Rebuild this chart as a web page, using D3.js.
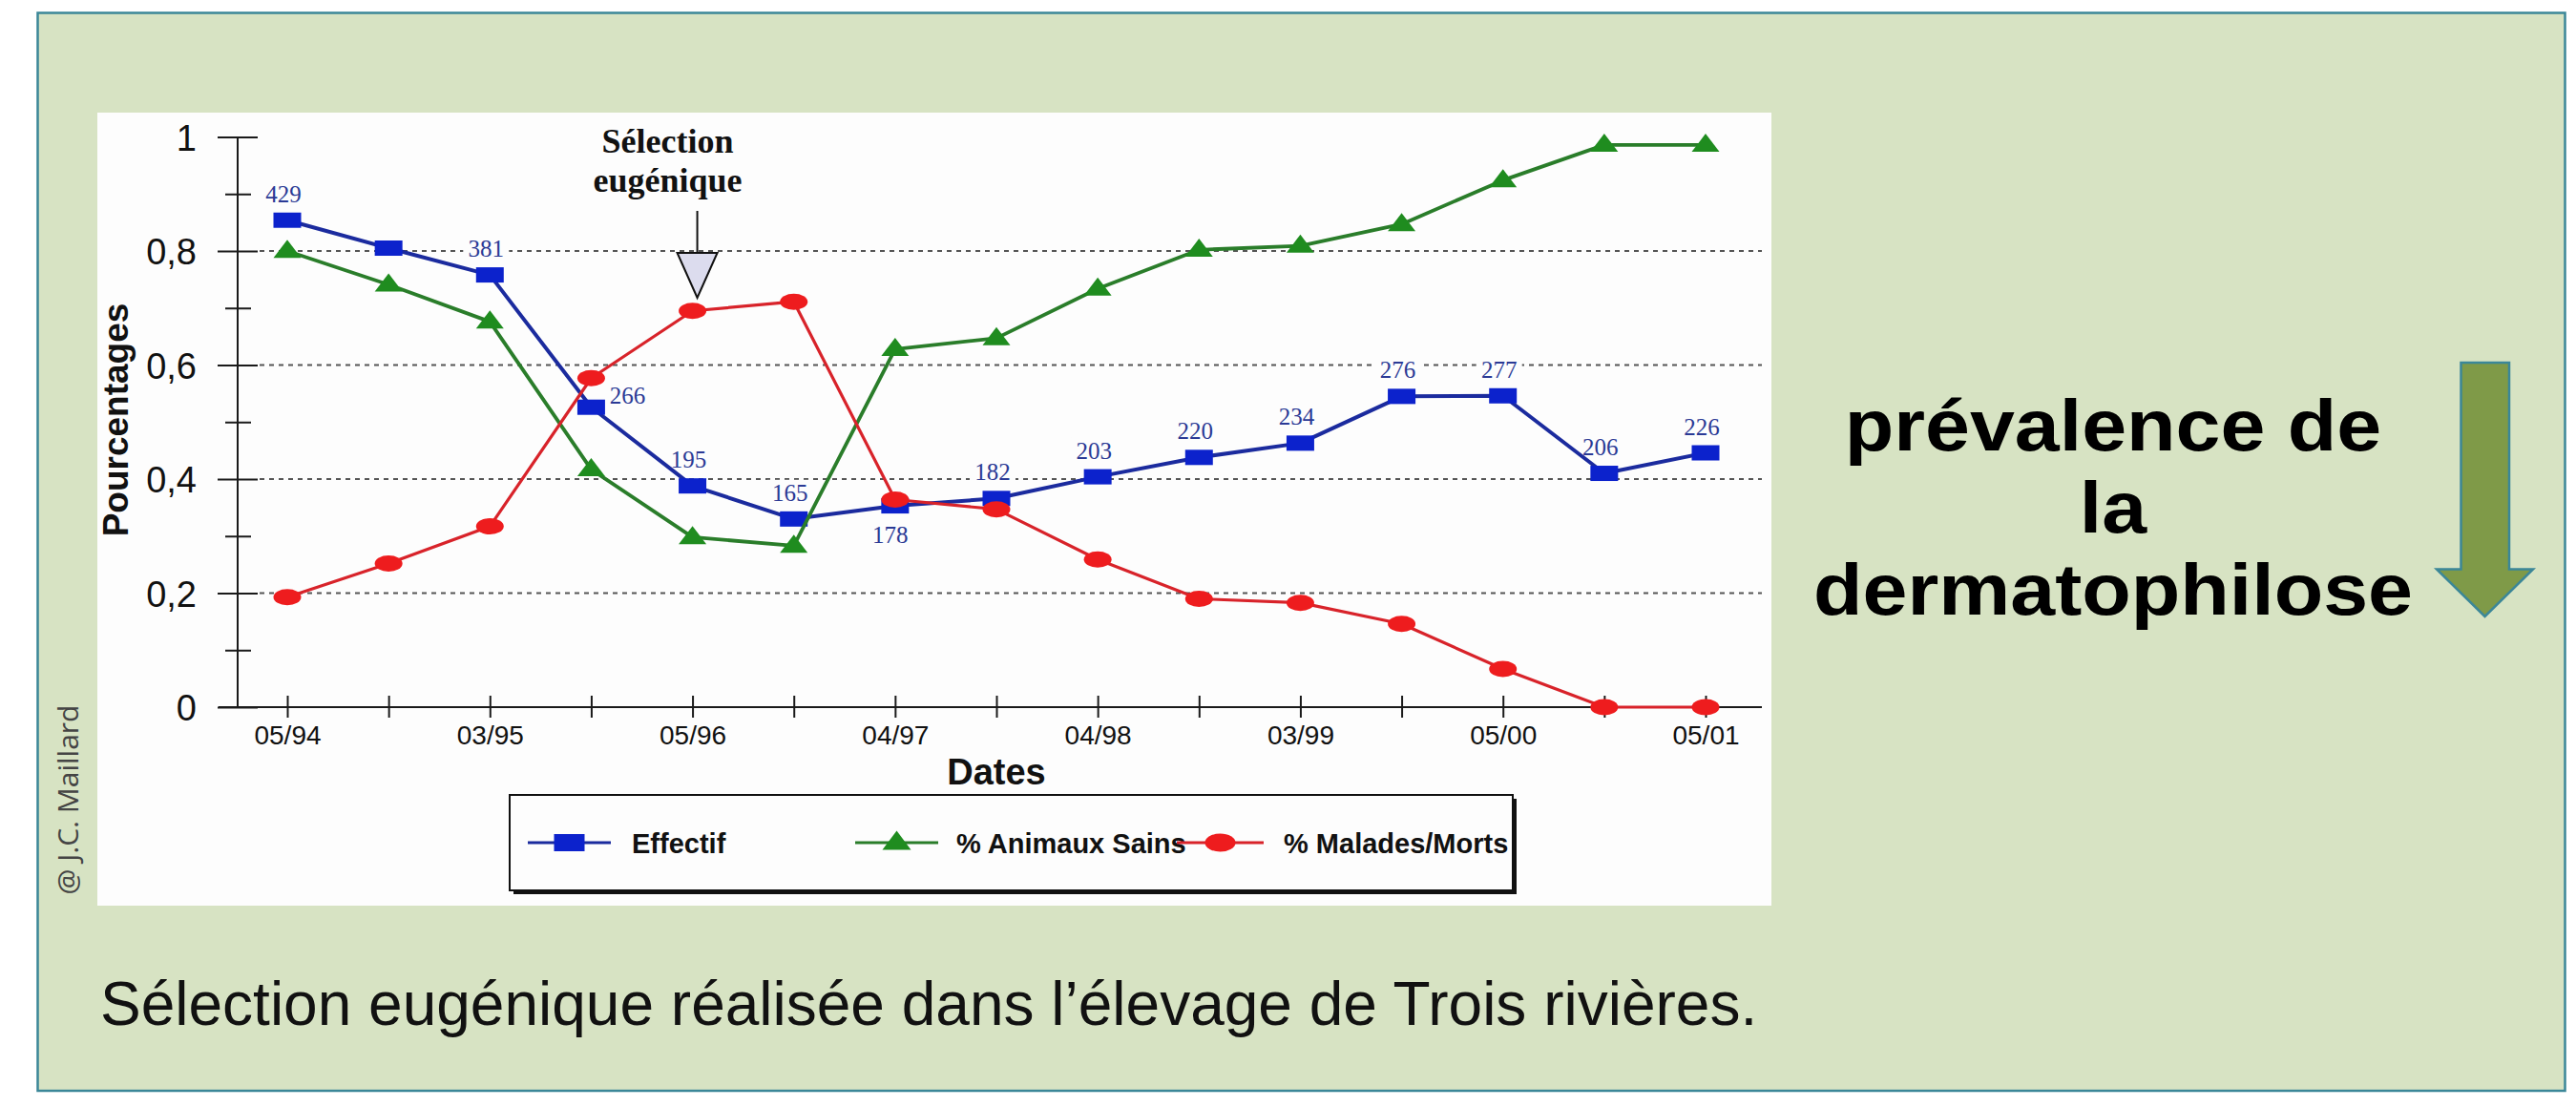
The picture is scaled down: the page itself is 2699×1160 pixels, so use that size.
<!DOCTYPE html>
<html>
<head>
<meta charset="utf-8">
<script src="https://cdn.jsdelivr.net/npm/d3@7"></script>
<style>
  html, body { margin: 0; padding: 0; background: #ffffff; }
  svg { display: block; }
</style>
</head>
<body>
<svg id="chart" width="2699" height="1160"></svg>
<script>
// ---------------- DATA ----------------
const dateLabels = ["05/94", "", "03/95", "", "05/96", "", "04/97", "", "04/98", "", "03/99", "", "05/00", "", "05/01"];
const effectif = [0.854, 0.805, 0.758, 0.526, 0.388, 0.330, 0.353, 0.366, 0.404, 0.438, 0.463, 0.545, 0.546, 0.410, 0.446];
const effectifCounts = ["429", "", "381", "266", "195", "165", "178", "182", "203", "220", "234", "276", "277", "206", "226"];
const effectifLabelSide = ["above", null, "above", "right", "above", "above", "below", "above", "above", "above", "above", "above", "above", "above", "above"];
const animauxSains = [0.800, 0.741, 0.676, 0.417, 0.298, 0.283, 0.628, 0.647, 0.734, 0.802, 0.809, 0.847, 0.924, 0.986, 0.986];
const maladesMorts = [0.193, 0.252, 0.317, 0.577, 0.695, 0.711, 0.364, 0.347, 0.259, 0.190, 0.183, 0.146, 0.067, 0.000, 0.000];
const yTickValues = [0, 0.1, 0.2, 0.3, 0.4, 0.5, 0.6, 0.7, 0.8, 0.9, 1];
const yTickLabels = ["0", "", "0,2", "", "0,4", "", "0,6", "", "0,8", "", "1"];
const gridValues = [0.2, 0.4, 0.6, 0.8];
const seriesNames = ["Effectif", "% Animaux Sains", "% Malades/Morts"];
const annotationIndex = 4;
const annotationLines = ["Sélection", "eugénique"];
const sideTextLines = ["prévalence de", "la", "dermatophilose"];
const captionText = "Sélection eugénique réalisée dans l’élevage de Trois rivières.";
const creditText = "@ J.C. Maillard";

// ---------------- STYLE ----------------
const SANS = "'Liberation Sans', Arial, Helvetica, sans-serif";
const SERIF = "'Liberation Serif', 'Times New Roman', serif";
const C = {
  panel: "#d7e3c3", panelStroke: "#3b8798",
  blueLine: "#1b2b9e", blueMark: "#0c22cc", blueText: "#2b3a95",
  greenLine: "#2a7d2a", greenMark: "#1f8c1f",
  redLine: "#d8232a", redMark: "#ee1c1e",
  axis: "#1a1a1a", grid: "#555"
};

const svg = d3.select("#chart");

// Panel
svg.append("rect").attr("x", 39.5).attr("y", 13.5).attr("width", 2648).attr("height", 1129.5)
  .attr("fill", C.panel).attr("stroke", C.panelStroke).attr("stroke-width", 2.5);

// White chart image area
svg.append("rect").attr("x", 102).attr("y", 118).attr("width", 1754).attr("height", 831)
  .attr("fill", "#fdfdfd");

// Scales
const x = d3.scalePoint().domain(d3.range(dateLabels.length)).range([301, 1787]);
const y = d3.scaleLinear().domain([0, 1]).range([741, 143.5]);
const axisX = 249;

const g = svg.append("g");

// Gridlines
g.selectAll("line.grid").data(gridValues).join("line")
  .attr("class", "grid")
  .attr("x1", 272).attr("x2", 1846)
  .attr("y1", d => y(d)).attr("y2", d => y(d))
  .attr("stroke", C.grid).attr("stroke-width", 2).attr("stroke-dasharray", "5,5");

// Y axis
const yAxis = d3.axisLeft(y).tickValues(yTickValues)
  .tickFormat((d, i) => yTickLabels[i]).tickSizeOuter(0);
const yg = g.append("g").attr("transform", `translate(${axisX},0)`).call(yAxis);
yg.select(".domain").remove();
yg.selectAll(".tick line")
  .attr("x1", (d, i) => yTickLabels[i] !== "" ? -21 : -13)
  .attr("x2", (d, i) => yTickLabels[i] !== "" ? 21 : 14)
  .attr("stroke", C.axis).attr("stroke-width", 2);
yg.selectAll(".tick text")
  .attr("x", -43).attr("dy", "0.36em")
  .attr("font-family", SANS).attr("font-size", 38).attr("fill", "#111");
g.append("line").attr("x1", axisX).attr("x2", axisX).attr("y1", y(1)).attr("y2", y(0))
  .attr("stroke", C.axis).attr("stroke-width", 2);

// X axis
const xAxis = d3.axisBottom(x).tickFormat(i => dateLabels[i]).tickSizeOuter(0);
const xg = g.append("g").attr("transform", `translate(0,${y(0)})`).call(xAxis);
xg.select(".domain").remove();
xg.selectAll(".tick line").attr("y1", -12).attr("y2", 11)
  .attr("stroke", C.axis).attr("stroke-width", 2);
xg.selectAll(".tick text").attr("y", 19)
  .attr("font-family", SANS).attr("font-size", 28).attr("fill", "#111");
g.append("line").attr("x1", 229).attr("x2", 1846).attr("y1", y(0)).attr("y2", y(0))
  .attr("stroke", C.axis).attr("stroke-width", 2);

// Axis titles
g.append("text").attr("transform", "translate(134,440) rotate(-90)")
  .attr("text-anchor", "middle").attr("font-family", SANS).attr("font-weight", "bold")
  .attr("font-size", 37).attr("fill", "#111").text("Pourcentages");
g.append("text").attr("x", (x(0) + x(dateLabels.length - 1)) / 2).attr("y", 822)
  .attr("text-anchor", "middle").attr("font-family", SANS).attr("font-weight", "bold")
  .attr("font-size", 38).attr("fill", "#111").text("Dates");

// Data label placement
const labelData = effectifCounts.map((t, i) => ({ t, i, side: effectifLabelSide[i] })).filter(d => d.t !== "");
function labelPos(d) {
  const px = x(d.i), py = y(effectif[d.i]);
  if (d.side === "right") return [px + 38, py - 4];
  if (d.side === "below") return [px - 5, py + 39];
  return [px - 4, py - 19];
}
// white label backgrounds (hide gridlines, as in the scanned chart)
g.append("g").selectAll("rect").data(labelData).join("rect")
  .attr("x", d => labelPos(d)[0] - 24).attr("y", d => labelPos(d)[1] - 22)
  .attr("width", 48).attr("height", 28).attr("fill", "#fdfdfd");

// Series
const line = d3.line().x((d, i) => x(i)).y(d => y(d));
function drawSeries(values, color, width) {
  g.append("path").datum(values).attr("d", line)
    .attr("fill", "none").attr("stroke", color).attr("stroke-width", width)
    .attr("stroke-linejoin", "round");
}
const tri = (cx, cy, w, h) => `M${cx},${cy - h * 0.62}L${cx + w / 2},${cy + h * 0.38}L${cx - w / 2},${cy + h * 0.38}Z`;

drawSeries(effectif, C.blueLine, 4);
g.selectAll("rect.eff").data(effectif).join("rect").attr("class", "eff")
  .attr("x", (d, i) => x(i) - 14.5).attr("y", d => y(d) - 8)
  .attr("width", 29).attr("height", 16).attr("fill", C.blueMark);

drawSeries(animauxSains, C.greenLine, 3.8);
g.selectAll("path.sains").data(animauxSains).join("path").attr("class", "sains")
  .attr("d", (d, i) => tri(x(i), y(d), 29, 19)).attr("fill", C.greenMark);

drawSeries(maladesMorts, C.redLine, 3.2);
g.selectAll("ellipse.mal").data(maladesMorts).join("ellipse").attr("class", "mal")
  .attr("cx", (d, i) => x(i)).attr("cy", d => y(d))
  .attr("rx", 14.5).attr("ry", 8.5).attr("fill", C.redMark);

// Label texts
g.append("g").selectAll("text").data(labelData).join("text")
  .attr("x", d => labelPos(d)[0]).attr("y", d => labelPos(d)[1])
  .attr("text-anchor", "middle").attr("font-family", SERIF).attr("font-size", 25)
  .attr("fill", C.blueText).text(d => d.t);

// Annotation "Sélection eugénique"
const ax = x(annotationIndex) + 5;
g.append("line").attr("x1", ax).attr("x2", ax).attr("y1", 221).attr("y2", 265)
  .attr("stroke", "#111").attr("stroke-width", 2);
g.append("path").attr("d", `M${ax - 21},265L${ax + 21},265L${ax},312Z`)
  .attr("fill", "#dcdcee").attr("stroke", "#111").attr("stroke-width", 2);
g.selectAll("text.annot").data(annotationLines).join("text").attr("class", "annot")
  .attr("x", ax - 31).attr("y", (d, i) => 160 + i * 41)
  .attr("text-anchor", "middle").attr("font-family", SERIF).attr("font-weight", "bold")
  .attr("font-size", 36).attr("fill", "#111").text(d => d);

// Legend
const lg = svg.append("g");
lg.append("rect").attr("x", 538).attr("y", 837).attr("width", 1051).attr("height", 100).attr("fill", "#111");
lg.append("rect").attr("x", 534).attr("y", 833).attr("width", 1051).attr("height", 100)
  .attr("fill", "#fdfdfd").attr("stroke", "#111").attr("stroke-width", 2);
const legendItems = [
  { name: seriesNames[0], x1: 553, x2: 640, color: C.blueLine, mark: C.blueMark, type: "rect", tx: 662 },
  { name: seriesNames[1], x1: 896, x2: 983, color: C.greenLine, mark: C.greenMark, type: "tri", tx: 1002 },
  { name: seriesNames[2], x1: 1233, x2: 1324, color: C.redLine, mark: C.redMark, type: "circle", tx: 1345 }
];
const ly = 883;
legendItems.forEach(it => {
  lg.append("line").attr("x1", it.x1).attr("x2", it.x2).attr("y1", ly).attr("y2", ly)
    .attr("stroke", it.color).attr("stroke-width", 3);
  const cx = (it.x1 + it.x2) / 2;
  if (it.type === "rect") lg.append("rect").attr("x", cx - 16).attr("y", ly - 9).attr("width", 32).attr("height", 18).attr("fill", it.mark);
  if (it.type === "tri") lg.append("path").attr("d", tri(cx, ly, 30, 20)).attr("fill", it.mark);
  if (it.type === "circle") lg.append("ellipse").attr("cx", cx).attr("cy", ly).attr("rx", 16).attr("ry", 9.5).attr("fill", it.mark);
  lg.append("text").attr("x", it.tx).attr("y", 894).attr("font-family", SANS)
    .attr("font-weight", "bold").attr("font-size", 29).attr("fill", "#111").text(it.name);
});

// Right-side text (slightly widened glyphs, like the slide's text)
const sideG = svg.append("g").attr("transform", "translate(2214,0) scale(1.11,1)");
sideG.selectAll("text.side").data(sideTextLines).join("text").attr("class", "side")
  .attr("x", 0).attr("y", (d, i) => 472 + i * 86)
  .attr("text-anchor", "middle").attr("font-family", SANS).attr("font-weight", "bold")
  .attr("font-size", 76).attr("fill", "#000").text(d => d);

// Green down arrow
svg.append("path")
  .attr("d", "M2578.5,380L2629,380L2629,596.5L2654,596.5L2603.5,646L2553,596.5L2578.5,596.5Z")
  .attr("fill", "#7f9a48").attr("stroke", "#3b8798").attr("stroke-width", 2.5);

// Caption
svg.append("text").attr("x", 105).attr("y", 1074).attr("font-family", SANS)
  .attr("font-size", 64).attr("fill", "#111").text(captionText);

// Credit
svg.append("text").attr("transform", "translate(82,838) rotate(-90)")
  .attr("text-anchor", "middle").attr("font-family", "'Open Sans', 'DejaVu Sans', sans-serif")
  .attr("font-size", 30).attr("fill", "#444").text(creditText);
</script>
</body>
</html>
